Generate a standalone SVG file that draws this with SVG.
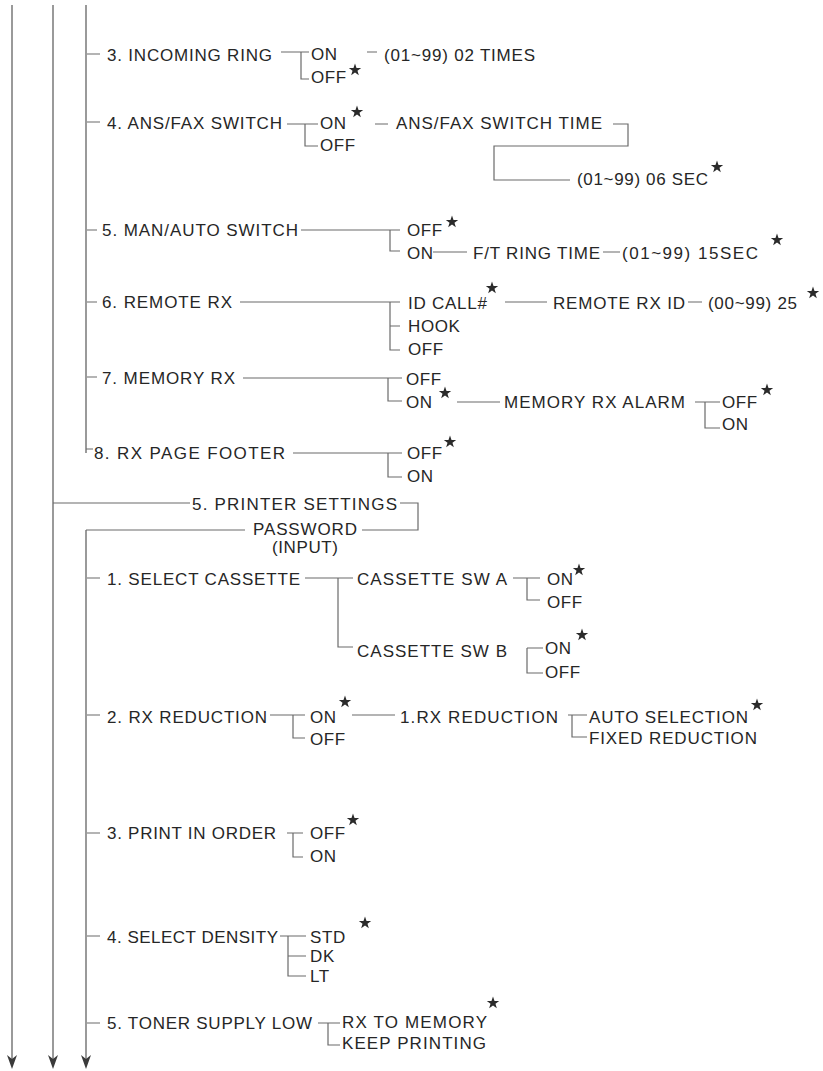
<svg xmlns="http://www.w3.org/2000/svg" width="823" height="1071" viewBox="0 0 823 1071">
<defs>
<style>
text{font-family:"Liberation Sans",Arial,sans-serif;font-size:17px;fill:#262626}
text.s{letter-spacing:0.6px}
.c{fill:none;stroke:#6a6a6a;stroke-width:1.2}
.m{stroke:#7a7a7a;stroke-width:1.5;fill:none}
.star{fill:#2b2b2b}
</style>
<path id="st" d="M0,-6.5 L1.53,-2.1 L6.18,-2.01 L2.47,0.8 L3.82,5.26 L0,2.6 L-3.82,5.26 L-2.47,0.8 L-6.18,-2.01 L-1.53,-2.1 Z"/>
<path id="ah" d="M-5,-14 L0,0 L5,-14 L0,-10 Z"/>
</defs>
<rect width="823" height="1071" fill="#ffffff"/>

<g id="connectors">
<path class="m" d="M12,5 V1060 M53,5 V1060 M86,5 V453 M86,530 V1060"/>
<use href="#ah" x="12" y="1069" fill="#3a3a3a"/>
<use href="#ah" x="53" y="1069" fill="#3a3a3a"/>
<use href="#ah" x="86" y="1069" fill="#3a3a3a"/>
<path class="c" d="M87,54 H100 M281,52 H309 M301,52 V79 H309 M367,52 H377"/>
<path class="c" d="M87,122 H100 M287,124 H318 M305,124 V146 H318 M375,124 H388 M613,124 H628 V146 H494 V180 H570"/>
<path class="c" d="M87,230 H97 M301,230 H400 M390,230 V251 H400 M433,252 H467 M603,252 H620"/>
<path class="c" d="M87,302 H97 M240,302 H400 M390,302 V350 H400 M390,326 H400 M505,302 H547 M688,302 H702"/>
<path class="c" d="M87,377 H97 M243,378 H402 M388,378 V401 H402 M457,402 H500 M695,402 H720 M705,402 V428 H720"/>
<path class="c" d="M86,449 H93 M293,453 H402 M388,453 V477 H402"/>
<path class="c" d="M53,503 H190 M400,503 H418 V530 H362 M86,530 H245"/>
<path class="c" d="M87,578 H100 M305,578 H353 M338,578 V647 H353 M513,578 H540 M527,578 V600 H540 M527,648 H543 M527,648 V673 H543"/>
<path class="c" d="M87,715 H100 M270,715 H305 M293,715 V738 H305 M352,715 H395 M568,715 H587 M572,715 V737 H587"/>
<path class="c" d="M87,833 H100 M287,833 H303 M293,833 V857 H303"/>
<path class="c" d="M87,936 H100 M280,936 H306 M288,936 V976 H306 M288,956 H306"/>
<path class="c" d="M87,1023 H100 M318,1023 H340 M328,1023 V1045 H340"/>
</g>

<g id="n-incoming-ring"><text x="107" y="61" textLength="165" lengthAdjust="spacing">3. INCOMING RING</text></g>
<g id="n-ir-on"><text class="s" x="311" y="60">ON</text></g>
<g id="n-ir-off"><text class="s" x="311" y="83">OFF</text><use href="#st" class="star" x="355" y="70"/></g>
<g id="n-ir-times"><text x="384" y="61" textLength="151" lengthAdjust="spacing">(01~99) 02 TIMES</text></g>

<g id="n-ansfax"><text x="107" y="129" textLength="175" lengthAdjust="spacing">4. ANS/FAX SWITCH</text></g>
<g id="n-af-on"><text class="s" x="320" y="129">ON</text><use href="#st" class="star" x="357" y="112"/></g>
<g id="n-af-off"><text class="s" x="320" y="151">OFF</text></g>
<g id="n-af-time"><text x="396" y="129" textLength="206" lengthAdjust="spacing">ANS/FAX SWITCH TIME</text></g>
<g id="n-af-sec"><text x="577" y="185" textLength="131" lengthAdjust="spacing">(01~99) 06 SEC</text><use href="#st" class="star" x="717" y="167"/></g>

<g id="n-manauto"><text x="102" y="236" textLength="196" lengthAdjust="spacing">5. MAN/AUTO SWITCH</text></g>
<g id="n-ma-off"><text class="s" x="407" y="236">OFF</text><use href="#st" class="star" x="452" y="222"/></g>
<g id="n-ma-on"><text class="s" x="407" y="259">ON</text></g>
<g id="n-ma-ft"><text x="473" y="259" textLength="127" lengthAdjust="spacing">F/T RING TIME</text></g>
<g id="n-ma-sec"><text x="622" y="259" textLength="136" lengthAdjust="spacing">(01~99) 15SEC</text><use href="#st" class="star" x="777" y="240"/></g>

<g id="n-remote"><text x="102" y="308" textLength="130" lengthAdjust="spacing">6. REMOTE RX</text></g>
<g id="n-rr-id"><text x="408" y="309" textLength="79" lengthAdjust="spacing">ID CALL#</text><use href="#st" class="star" x="492" y="288"/></g>
<g id="n-rr-hook"><text class="s" x="408" y="332">HOOK</text></g>
<g id="n-rr-off"><text class="s" x="408" y="355">OFF</text></g>
<g id="n-rr-rid"><text x="553" y="309" textLength="132" lengthAdjust="spacing">REMOTE RX ID</text></g>
<g id="n-rr-val"><text x="708" y="309" textLength="89" lengthAdjust="spacing">(00~99) 25</text><use href="#st" class="star" x="813" y="293"/></g>

<g id="n-memory"><text x="102" y="384" textLength="133" lengthAdjust="spacing">7. MEMORY RX</text></g>
<g id="n-mr-off"><text class="s" x="406" y="385">OFF</text></g>
<g id="n-mr-on"><text class="s" x="406" y="408">ON</text><use href="#st" class="star" x="445" y="393"/></g>
<g id="n-mr-alarm"><text x="504" y="408" textLength="181" lengthAdjust="spacing">MEMORY RX ALARM</text></g>
<g id="n-mra-off"><text class="s" x="722" y="408">OFF</text><use href="#st" class="star" x="767" y="390"/></g>
<g id="n-mra-on"><text class="s" x="722" y="430">ON</text></g>

<g id="n-footer"><text x="94" y="459" textLength="191" lengthAdjust="spacing">8. RX PAGE FOOTER</text></g>
<g id="n-pf-off"><text class="s" x="407" y="459">OFF</text><use href="#st" class="star" x="450" y="442"/></g>
<g id="n-pf-on"><text class="s" x="407" y="482">ON</text></g>

<g id="n-printer"><text x="192" y="510" textLength="205" lengthAdjust="spacing">5. PRINTER SETTINGS</text></g>
<g id="n-password"><text x="253" y="535" textLength="104" lengthAdjust="spacing">PASSWORD</text><text x="272" y="553" textLength="66" lengthAdjust="spacing">(INPUT)</text></g>

<g id="n-cassette"><text x="107" y="585" textLength="193" lengthAdjust="spacing">1. SELECT CASSETTE</text></g>
<g id="n-swa"><text x="357" y="585" textLength="150" lengthAdjust="spacing">CASSETTE SW A</text></g>
<g id="n-swa-on"><text class="s" x="547" y="585">ON</text><use href="#st" class="star" x="579" y="570"/></g>
<g id="n-swa-off"><text class="s" x="547" y="608">OFF</text></g>
<g id="n-swb"><text x="357" y="657" textLength="150" lengthAdjust="spacing">CASSETTE SW B</text></g>
<g id="n-swb-on"><text class="s" x="545" y="654">ON</text><use href="#st" class="star" x="582" y="635"/></g>
<g id="n-swb-off"><text class="s" x="545" y="678">OFF</text></g>

<g id="n-reduction"><text x="107" y="723" textLength="160" lengthAdjust="spacing">2. RX REDUCTION</text></g>
<g id="n-rd-on"><text class="s" x="310" y="723">ON</text><use href="#st" class="star" x="345" y="702"/></g>
<g id="n-rd-off"><text class="s" x="310" y="745">OFF</text></g>
<g id="n-rd-sub"><text x="400" y="723" textLength="158" lengthAdjust="spacing">1.RX REDUCTION</text></g>
<g id="n-rd-auto"><text x="589" y="723" textLength="159" lengthAdjust="spacing">AUTO SELECTION</text><use href="#st" class="star" x="757" y="705"/></g>
<g id="n-rd-fixed"><text x="589" y="744" textLength="168" lengthAdjust="spacing">FIXED REDUCTION</text></g>

<g id="n-order"><text x="107" y="839" textLength="169" lengthAdjust="spacing">3. PRINT IN ORDER</text></g>
<g id="n-po-off"><text class="s" x="310" y="839">OFF</text><use href="#st" class="star" x="353" y="820"/></g>
<g id="n-po-on"><text class="s" x="310" y="862">ON</text></g>

<g id="n-density"><text x="107" y="943" textLength="171" lengthAdjust="spacing">4. SELECT DENSITY</text></g>
<g id="n-sd-std"><text class="s" x="310" y="943">STD</text><use href="#st" class="star" x="365" y="923"/></g>
<g id="n-sd-dk"><text class="s" x="310" y="962">DK</text></g>
<g id="n-sd-lt"><text class="s" x="310" y="982">LT</text></g>

<g id="n-toner"><text x="107" y="1029" textLength="205" lengthAdjust="spacing">5. TONER SUPPLY LOW</text></g>
<g id="n-ts-rx"><text x="342" y="1028" textLength="145" lengthAdjust="spacing">RX TO MEMORY</text><use href="#st" class="star" x="493" y="1003"/></g>
<g id="n-ts-keep"><text x="342" y="1049" textLength="144" lengthAdjust="spacing">KEEP PRINTING</text></g>
</svg>
